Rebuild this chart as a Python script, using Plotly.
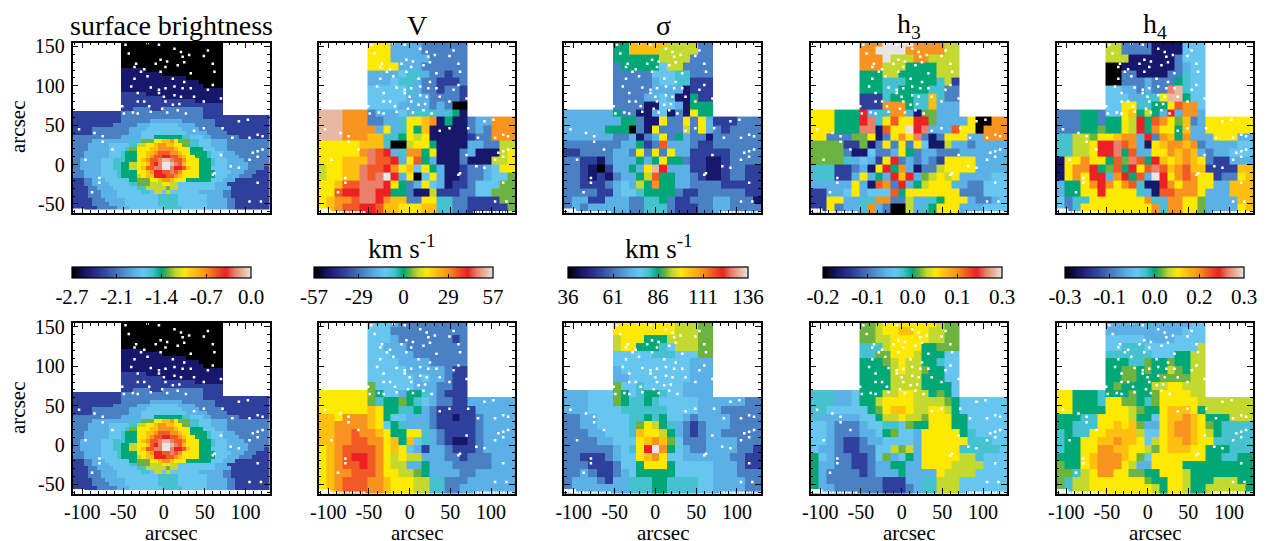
import plotly.graph_objects as go

W, H = 1271, 541
FONT = "Liberation Serif"

# colour levels used by the maps (code -> position in the colour table, colour)
LEVEL_CODES = list("0123456789abcdefgh")
LEVEL_POS = [0.0, 0.08, 0.17, 0.27, 0.35, 0.40, 0.45, 0.50, 0.54, 0.58, 0.63, 0.68, 0.75, 0.80, 0.86, 0.91, 0.96, 1.0]
LEVEL_COL = ["#000000", "#17176b", "#2f3f9c", "#4a80c4", "#5bb1e6", "#66c6f0", "#45c1cf", "#00a878",
             "#6cb33f", "#c4d92e", "#ffe900", "#fdc010", "#f7931e", "#f15a24", "#ed2024", "#e8806a",
             "#e8b8a0", "#e6e6e6"]

# 10-arcsec map cells (edges, arcsec)
X_EDGES = [-112, -102, -92, -82, -72, -62, -51.5, -42, -32.7, -23.2, -13.8, -4.4, 5, 14.4, 23.9, 33.3, 42.7, 52.1, 61.6,
           71, 81, 91, 100, 110, 120, 130]
Y_EDGES = [160, 150, 140, 130, 120, 110, 100, 90, 80, 70, 61, 50, 40, 30, 20, 10, 0, -10, -20, -30, -40, -50, -65]
# 5-arcsec cells of the surface brightness map (centres, arcsec)
SB_X = [-110 + 5 * i for i in range(49)]
SB_Y = [155 - 5 * i for i in range(43)]

# surface brightness: run lengths "code/count"
SB_RUNS = """
./12 0/25 ./12
./12 0/25 ./12
./12 0/25 ./12
./12 0/25 ./12
./12 0/25 ./12
./12 0/25 ./12
./12 0/25 ./12
./12 1/6 0/19 ./12
./12 1/10 0/15 ./12
./12 1/16 0/9 ./12
./12 1/19 0/6 ./12
./12 1/20 0/5 ./12
./12 1/25 ./12
./12 2/6 1/19 ./12
./12 2/10 1/15 ./12
./12 2/18 1/7 ./12
./12 2/25 ./12
./12 2/3 3/4 2/3 3/10 2/5 ./12
2/12 3/20 2/5 ./12
2/12 3/20 2/17
2/12 3/7 4/8 3/8 2/14
2/10 3/6 4/3 5/7 4/4 3/5 2/14
2/5 3/9 4/4 5/9 4/4 3/6 2/12
2/5 3/9 4/3 5/11 4/5 3/5 2/11
3/12 4/5 5/3 7/7 6/2 5/3 4/2 3/7 2/8
3/5 4/9 6/3 8/3 a/2 b/2 c/1 a/1 8/3 6/2 5/3 4/4 3/11
3/4 4/5 5/5 6/2 9/2 a/2 b/1 c/2 b/2 a/2 8/2 6/2 5/3 4/4 3/11
3/4 4/5 5/4 6/1 8/2 a/3 b/2 c/4 b/1 a/3 7/3 5/3 4/3 3/11
3/3 4/6 5/3 6/1 7/3 a/2 b/2 c/1 d/3 c/2 b/1 a/2 7/4 6/1 5/3 4/3 3/9
3/3 4/6 5/3 6/1 7/3 a/2 b/1 c/1 d/2 e/2 d/2 c/1 b/1 a/2 7/3 6/1 5/3 4/4 3/8
3/2 4/5 5/3 6/3 7/3 a/1 b/1 c/1 d/2 f/1 g/2 f/1 d/2 c/1 a/3 7/3 6/1 5/3 4/4 3/7
3/2 4/5 5/3 6/2 7/2 9/2 a/2 b/1 d/1 e/1 f/1 h/2 g/1 f/1 d/1 b/1 a/3 7/3 6/1 5/3 4/5 3/6
3/2 4/5 5/3 6/2 7/2 9/2 a/1 b/1 d/2 f/2 h/2 f/1 e/2 d/1 b/1 a/2 7/3 5/4 4/5 3/4 2/2
3/3 4/4 5/4 6/1 7/4 a/2 b/1 c/1 e/2 d/2 f/1 d/1 c/1 a/4 7/4 5/4 4/3 3/3 2/4
3/3 4/4 5/4 6/1 7/4 9/1 a/1 b/2 e/3 d/2 c/1 b/1 a/4 7/4 5/3 4/3 3/3 2/5
2/3 3/2 4/3 5/6 7/2 8/3 a/2 b/1 c/2 b/1 a/3 7/6 5/3 4/3 2/9
2/3 3/2 4/4 5/5 6/2 8/3 9/3 a/2 9/2 5/9 4/3 2/11
2/4 3/2 4/4 5/6 6/2 9/5 8/1 9/2 5/9 4/4 2/10
2/4 3/3 4/4 5/6 6/2 5/1 9/2 5/1 9/1 5/7 4/6 3/2 2/11
2/4 3/3 4/4 5/10 6/5 5/7 4/4 3/2 2/10
2/5 3/3 4/5 5/8 6/5 5/7 4/5 3/2 2/9
2/5 3/4 4/4 5/8 6/5 5/7 4/5 3/2 2/9
2/6 3/5 4/3 5/8 6/5 5/6 4/5 3/2 2/9
""".strip().split("\n")

V_TOP = """
......aaa4444333333......
......aaa4444333333......
......aaa4444433333......
......aaaa444333333......
......4444566433233......
......4445664332223......
......5555564332332......
......5555544433332......
......5555444434300......
......3444546664671......
gggccc33446aabc1711344ccc
gggcccc4a46a7b11111343ccc
gggcccbb667a9a11111233ccc
aaaaabbb6009aa71111443399
aaaaacfde46cc7a111341119a
aaabbbfdde4ad74111311199a
9aabbfddecab5a741123345aa
9aabbfdfhe4a05a4112334558
aabddfffea734a54122355588
aadeeffee7731192223355888
abccdffecbb33aa6633222288
abcddeedbbaaabb6633222228
""".split()

S_TOP = """
......77bbbbb999933......
......77bbbb9999933......
......7777779999333......
......3777775993333......
......3333355566333......
......3333345566222......
......3333344441222......
......3333445411722......
......3333115541777......
......7331145131a77......
444444477311a33a3a4222333
44444777031a33393a4323333
444444334134a374331333333
333333344723d444322333333
223333443a3a3a44222223333
332213444747a773221123333
3321024474age444221123322
33212134479d7744321123322
33222345497c7744333322222
3333224556777732233333322
3442244433667322333443331
3434444433666322233443333
""".split()

H3_TOP = """
......ccchhhhcccc99......
......cchhhhccccc99......
......ccch999cc9999......
......ccc9997777999......
......7779977777999......
......7776667777692......
......7776677776633......
......222677766b633......
......222ccc766b444......
......e466cc4188444......
aaa777ef6adaaee84444a00cc
aaa777ff1daahef444daa0ccc
aa33388a13acaf313aaa44ccc
888822813a3a3a51194434444
88883115334a7344333444444
888864542ae343432aaaa4444
66622341ae7c41339aaaa4444
666224a474ebe489a9a444455
44444a41dc3e479aaa4433555
22445a4555d7aaaaaaa333555
22aa4466cc3394467aaa43345
22a3446c43009467aaa444555
""".split()

H4_TOP = """
......9933331111555......
......9933331111555......
......9991111113555......
......0011111113455......
......0033111133655......
......0033343337655......
......55443433fg655......
......5554466agg755......
......55aa6677adcc5......
......55ab7974e4cc4......
33377377a9e7dca8b34aaaaaa
33377877a9e7caa7b44aaaaaa
66998aabcc4e3cb7c444aaa44
6699aeefdc41abccbc3444455
6699aeef7d44aacbcb4344555
1aacaa7d8fd7ebabcba322444
1acce78d7eadfdbcdbb2222bb
1acaee4ce7d4heacdcaa233ab
477acecacd611ecaccaa44bbb
477aaeaaaa641ddccca444bbb
5366aaaaaaac64ccaa84444bb
536aaaaaaaaac6ccaa84444ab
""".split()

V_BOT = """
......5554333333333......
......5553333333333......
......5554333333323......
......5544433333333......
......5554443333333......
......5555444433333......
......5555544444322......
......5555554544322......
......8555554443322......
......8755477643222......
aaaaaa8677876543322444444
aaaaaaba77667432222244444
bbacccba75544432212234444
bbccccba57644432222234444
bbccdccba77aa643222234444
bbccddccab7b5643211234444
abcddddcaba54244322234444
abcdeedca9a99444332333444
abcddedca9944744433333444
abccdddcaa998744443344444
abcdddccbaaa9966333444444
abcdddccbaaa9966334444444
""".split()

S_BOT = """
......aaaaaaaa99988......
......aaaaaaaa99988......
......9aaa777999988......
......9aa7776599988......
......5555566655588......
......5555555555444......
......4555555555444......
......4455555555444......
......8556555554444......
......8756776554444......
4445558766765555544444433
4445555666666555544433333
3344555566767554344443333
3344555568a97643234443333
333445556baa9743234433333
333344555abcb853334444333
333333456aehc754334444332
332223455abca554444443322
3332223557aaa755555444322
3343223457777755555444333
3444324466677666655444433
3444444466677666655444433
""".split()

H3_BOT = """
......889aaaaaaa988......
......889aabbaa9988......
......8899aaaaa9988......
......6669aaaa77888......
......6688aaa977755......
......77789a9977655......
......77779a9987755......
......7777999977755......
......7777999977775......
......77799aa997875......
666445779aaaa999987555555
665555578abba99aa97555555
64444455799a998aaa7755555
554333455665877aaa7755555
55433344578554aaaaa765555
55432234455554aaaaaa66655
54432233559894aaaaa666665
75433223584574aaaaa996555
74433223447744aaaa9999555
7433332344474444a99995555
7433333332224466999555555
7443333332223466999555555
""".split()

H4_BOT = """
......4444444444455......
......4444444444555......
......5555544445555......
......5566655555559......
......6666665557799......
......7776687787799......
......7788787798799......
......7788777888899......
......78777799aa999......
......7778778aaaa99......
aa7776aa88768aaaaa9999999
aa7777aaa9877abbba7999999
77766aaaa9775abbcba777999
77666aabab844abccba876666
6766aabbbb955abccba976666
677aabbcbba59abbcbaa66666
677aaccbbaa98abbbaa777666
777abcccba85aaaaaaa776677
877abccca944aaaa777777777
8869accaa8877aaa977777777
8699aaaaaaa877aa977799977
8699aaaaaaaa97aa977999997
""".split()

VMIN = [-2.7, -57, 36, -0.2, -0.3]
VMAX = [0.0, 57, 136, 0.3, 0.3]
CB_VALS = [
    [-2.7, -2.025, -1.35, -0.675, 0.0],
    [-57, -28.5, 0, 28.5, 57],
    [36, 61, 86, 111, 136],
    [-0.2, -0.075, 0.05, 0.175, 0.3],
    [-0.3, -0.15, 0.0, 0.15, 0.3],
]
CB_TEXT = [
    ["-2.7", "-2.1", "-1.4", "-0.7", "0.0"],
    ["-57", "-29", "0", "29", "57"],
    ["36", "61", "86", "111", "136"],
    ["-0.2", "-0.1", "0.0", "0.1", "0.3"],
    ["-0.3", "-0.1", "0.0", "0.2", "0.3"],
]
TITLES = ["surface brightness", "V", "σ", "h<sub>3</sub>", "h<sub>4</sub>"]
TITLE_X = [171, 417, 663, 909, 1155]
X_TICKS = [-100, -50, 0, 50, 100]
X_TICK_TEXT = ["-100", "-50", "0", "50", "100"]
Y_TICKS = [-50, 0, 50, 100, 150]
Y_TICK_TEXT = ["-50", "0", "50", "100", "150"]

# bad pixels (arcsec), blank in every map
BAD_X = [-47, -20, -6, 13, 21, 54, 31, 23, -34, -43, -24, -10, -4, 4, 2, -36, 60, 49, 17, 25, -28, -4, 33, 62, -20, 11, 25,
         -36, -40, -16, -6, 2, 13, 23, 33, 54, 60, -32, -6, 0, 13, 21, 37, 2, 11, -32, -24, -18, -51, -49, -38, -32, -16,
         -2, 4, 17, 27, 19, 49, 70,
         103, 92, -104, -85, -75, -75, 37, 49, 72, 115, 121, 105, 84, 109, 115, 121, 70, 105, 115, -63, -96, 82, 92, 62,
         60, -88, -79, 115, 119, 105, -79]
BAD_Y = [152, 154, 152, 147, 143, 145, 139, 137, 128, 141, 121, 128, 133, 131, 124, 124, 128, 138, 126, 130, 118, 118, 116,
         118, 112, 109, 105, 109, 99, 98, 95, 97, 99, 97, 97, 95, 101, 91, 91, 86, 88, 86, 86, 80, 76, 80, 80, 74, 74, 65,
         66, 65, 67, 71, 66, 69, 65, 77, 80, 84,
         57, 55, 45, 40, 36, 29, 43, 46, 46, 38, 36, 34, 34, 15, 17, 19, 12, 6, 10, 19, 6, -2, -4, -11, -13, -35, -23, -23,
         -47, -47, -17]
# the blank strip along the bottom edge
STRIP_X = [-111, -108, -105, -102, -99, -111, -108, -105, -102, -99, -96, -92, -88, -84, -80, -76, -72, -68, -64, -60, -56,
           80, 84, 88, 92, 96, 100, 104, 108, 112, 116, 120, 124, 128]
STRIP_Y = [-57.5] * 5 + [-59.5] * 5 + [-60.5] * 11 + [-60.5] * 13

PANEL_X = [(72.5, 269.5), (318.5, 515), (564, 761), (810.5, 1007), (1056.5, 1253)]
ROW_Y = [(42.5, 213), (323, 493.5)]
CB_X = [(72, 251), (314, 493), (568, 748), (823, 1002), (1065, 1244)]
CB_TOP, CB_THICK = 267, 11
UNIT_X = [402, 659]


def fx(p):
    return p / W


def fy(p):
    return 1 - p / H


def expand(runs):
    return ["".join(t.split("/")[0] * int(t.split("/")[1]) for t in row.split()) for row in runs]


SB = expand(SB_RUNS)
MAPS_TOP = [SB, V_TOP, S_TOP, H3_TOP, H4_TOP]
MAPS_BOT = [SB, V_BOT, S_BOT, H3_BOT, H4_BOT]

code_pos = dict(zip(LEVEL_CODES, LEVEL_POS))
colorscale = [[p, c] for p, c in zip(LEVEL_POS, LEVEL_COL)]


def grid(rows, vmin, vmax, ncol):
    out = []
    for r in rows:
        r = (r + r[-1] * ncol)[:ncol]
        out.append([None if c == "." else vmin + code_pos[c] * (vmax - vmin) for c in r])
    return out


def coarse_rows(rows):
    # the map reaches higher on its left side than on its right side
    rows = [(r + r[-1] * 25)[:25] for r in rows]
    rows[9] = rows[10][:6] + rows[9][6:]
    return rows


fig = go.Figure()
layout = {}
n = 0
label_font = dict(family=FONT, size=20, color="#000")
for rix, maps in enumerate([MAPS_TOP, MAPS_BOT]):
    for cix in range(5):
        n += 1
        xa, ya = f"x{n}", f"y{n}"
        if cix == 0:
            gx, gy, z = SB_X, SB_Y, grid(maps[cix], VMIN[cix], VMAX[cix], 49)
        else:
            gx, gy, z = X_EDGES, Y_EDGES, grid(coarse_rows(maps[cix]), VMIN[cix], VMAX[cix], 25)
        trace = dict(
            x=gx, y=gy, z=z, zmin=VMIN[cix], zmax=VMAX[cix], colorscale=colorscale, xaxis=xa, yaxis=ya,
            hoverongaps=False, showscale=rix == 0,
        )
        if rix == 0:
            trace["colorbar"] = dict(
                orientation="h", xref="paper", yref="paper", x=fx(CB_X[cix][0]), xanchor="left",
                y=fy(CB_TOP), yanchor="top", len=(CB_X[cix][1] - CB_X[cix][0]) / W, lenmode="fraction",
                thickness=CB_THICK, thicknessmode="pixels", xpad=0, ypad=0,
                tickmode="array", tickvals=CB_VALS[cix], ticktext=CB_TEXT[cix],
                ticks="inside", ticklen=4, tickcolor="#000", tickwidth=1,
                outlinecolor="#000", outlinewidth=1.2,
                tickfont=dict(family=FONT, size=21, color="#000"),
            )
        fig.add_trace(go.Heatmap(**trace))
        fig.add_trace(go.Scatter(
            x=BAD_X + STRIP_X, y=BAD_Y + STRIP_Y, mode="markers", xaxis=xa, yaxis=ya, showlegend=False,
            hoverinfo="skip", marker=dict(symbol="square", size=2.5, color="#fff", line=dict(width=0)),
        ))
        common = dict(
            showgrid=False, zeroline=False, showline=True, linecolor="#000", linewidth=1.5, mirror="allticks",
            ticks="inside", ticklen=6, tickcolor="#000", tickwidth=1, tickfont=label_font, tickmode="array",
            minor=dict(ticks="inside", ticklen=3, dtick=10, tickcolor="#000", tickwidth=1),
        )
        layout[f"xaxis{n}"] = dict(common, domain=[fx(PANEL_X[cix][0]), fx(PANEL_X[cix][1])], range=[-112, 129.5],
                                   anchor=ya, tickvals=X_TICKS, ticktext=X_TICK_TEXT, showticklabels=rix == 1,
                                   ticklabelstandoff=0)
        layout[f"yaxis{n}"] = dict(common, domain=[fy(ROW_Y[rix][1]), fy(ROW_Y[rix][0])], range=[-61.5, 155],
                                   anchor=xa, tickvals=Y_TICKS, ticktext=Y_TICK_TEXT, showticklabels=cix == 0,
                                   ticklabelstandoff=2)

annotations = []
for t, x in zip(TITLES, TITLE_X):
    annotations.append(dict(text=t, x=fx(x), y=fy(25), xref="paper", yref="paper", showarrow=False,
                            xanchor="center", yanchor="middle", font=dict(family=FONT, size=28, color="#000")))
for x in UNIT_X:
    annotations.append(dict(text="km s<sup>-1</sup>", x=fx(x), y=fy(247), xref="paper", yref="paper", showarrow=False,
                            xanchor="center", yanchor="middle", font=dict(family=FONT, size=27, color="#000")))
for x in TITLE_X:
    annotations.append(dict(text="arcsec", x=fx(x), y=fy(533), xref="paper", yref="paper", showarrow=False,
                            xanchor="center", yanchor="middle", font=dict(family=FONT, size=21, color="#000"),
                            height=14))
for y in [127, 408]:
    annotations.append(dict(text="arcsec", x=fx(18), y=fy(y), xref="paper", yref="paper", showarrow=False, textangle=-90,
                            xanchor="center", yanchor="middle", font=dict(family=FONT, size=21, color="#000")))

fig.update_layout(width=W, height=H, margin=dict(l=0, r=0, t=0, b=0, autoexpand=False), paper_bgcolor="#fff",
                  plot_bgcolor="#fff", showlegend=False, annotations=annotations, **layout)
fig.write_html("out.html", config={"displayModeBar": False}, post_script="document.body.style.margin='0';")
